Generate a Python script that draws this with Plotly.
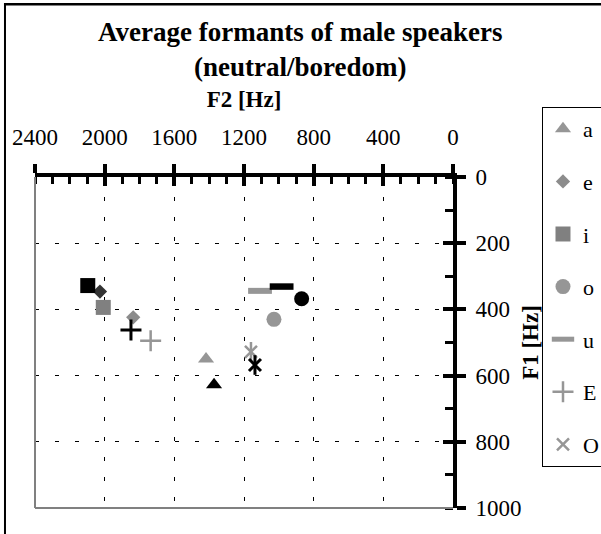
import plotly.graph_objects as go

# vowel formants (Hz)
vowels = ["a", "e", "i", "o", "u", "E", "O"]
f2_neutral = [1418, 1836, 2008, 1028, 1108, 1736, 1160]
f1_neutral = [550, 424, 394, 430, 344, 495, 528]
f2_boredom = [1372, 2027, 2097, 869, 984, 1849, 1137]
f1_boredom = [628, 346, 328, 368, 331, 462, 568]

# marker look per vowel: symbol, size, neutral colour, boredom colour
symbols = ["triangle-up", "diamond", "square", "circle", "line-ew", "cross-thin", "x-thin"]
sizes = [14, 11, 15, 15, 17, 15, 12]
grey_cols = ["#969696", "#8c8c8c", "#808080", "#969696", "#969696", "#969696", "#969696"]
dark_cols = ["black", "#333333", "black", "black", "black", "black", "black"]

fig = go.Figure()

for i, v in enumerate(vowels):
    sym = symbols[i]
    is_line = sym in ("line-ew", "cross-thin", "x-thin")
    lw = 6 if sym == "line-ew" else 2.5
    for f2, f1, col, show in [(f2_neutral, f1_neutral, grey_cols[i], True),
                              (f2_boredom, f1_boredom, dark_cols[i], False)]:
        marker = dict(symbol=sym, size=sizes[i], color=col)
        if is_line:
            marker["line"] = dict(color=col, width=lw if show else lw + 0.5)
        else:
            marker["line"] = dict(width=0)
        fig.add_trace(go.Scatter(
            x=[f2[i]], y=[f1[i]], mode="markers", name=v,
            legendgroup=v, showlegend=show, marker=marker
        ))
        # asterisk = x plus a vertical stroke
        if sym == "x-thin":
            fig.add_trace(go.Scatter(
                x=[f2[i]], y=[f1[i]], mode="markers", legendgroup=v, showlegend=False,
                marker=dict(symbol="line-ns", size=14, line=dict(color=col, width=lw if show else lw + 0.5))
            ))

# empty trace so the overlay axes (inner half of the crossing ticks) get drawn
fig.add_trace(go.Scatter(x=[], y=[], xaxis="x2", yaxis="y2", showlegend=False))

axis_common = dict(
    showline=True, linewidth=4, linecolor="black",
    ticks="outside", ticklen=9, tickwidth=3.5, tickcolor="black",
    showgrid=True, gridcolor="black", gridwidth=1, griddash="4px,16px",
    zeroline=False, tickfont=dict(size=23), automargin=False,
)

fig.update_layout(
    width=601, height=534,
    margin=dict(l=35, r=148, t=177, b=26, autoexpand=False),
    plot_bgcolor="white", paper_bgcolor="white",
    font=dict(family="Liberation Serif", size=23, color="black"),
    xaxis=dict(
        side="top", range=[2400, 0], tick0=0, dtick=400,
        minor=dict(dtick=100, ticks="inside", ticklen=7, tickwidth=3, tickcolor="black", showgrid=False),
        ticklabelstandoff=10,
        title=dict(text="<b>F2 [Hz]</b>", standoff=12, font=dict(size=23)),
        **axis_common
    ),
    yaxis=dict(
        side="right", range=[1000, 0], tick0=0, dtick=200,
        minor=dict(dtick=100, ticks="inside", ticklen=8, tickwidth=3, tickcolor="black", showgrid=False),
        ticklabelstandoff=5,
        title=dict(text="<b>F1 [Hz]</b>", standoff=2, font=dict(size=23)),
        **axis_common
    ),
    xaxis2=dict(overlaying="x", side="top", range=[2400, 0], tick0=0, dtick=400,
                ticks="inside", ticklen=9, tickwidth=3.5, tickcolor="black",
                showticklabels=False, showgrid=False, showline=False, zeroline=False),
    yaxis2=dict(overlaying="y", side="right", range=[1000, 0], tick0=0, dtick=200,
                ticks="inside", ticklen=10, tickwidth=3.5, tickcolor="black",
                showticklabels=False, showgrid=False, showline=False, zeroline=False),
    legend=dict(
        x=1.2129, y=1.2115, xanchor="left", yanchor="top",
        bordercolor="black", borderwidth=1, bgcolor="white",
        font=dict(size=22), tracegroupgap=21, maxheight=420,
    ),
    annotations=[
        dict(text="<b>Average formants of male speakers</b>", x=0.634, y=1.438,
             xref="paper", yref="paper", showarrow=False, font=dict(size=27),
             xanchor="center", yanchor="middle"),
        dict(text="<b>(neutral/boredom)</b>", x=0.634, y=1.332,
             xref="paper", yref="paper", showarrow=False, font=dict(size=27),
             xanchor="center", yanchor="middle"),
    ],
    shapes=[
        # grey plot-area border on the left and bottom
        dict(type="line", xref="paper", yref="paper", x0=0, x1=0, y0=0, y1=1,
             line=dict(color="#808080", width=2)),
        dict(type="line", xref="paper", yref="paper", x0=0, x1=1, y0=0, y1=0,
             line=dict(color="#808080", width=2)),
        # chart area frame as thin filled bars (left and top edges)
        dict(type="rect", xref="paper", yref="paper", x0=-0.0742, x1=-0.0694, y0=-0.3, y1=1.5257,
             fillcolor="black", line=dict(width=0)),
        dict(type="rect", xref="paper", yref="paper", x0=-0.0742, x1=1.6, y0=1.5181, y1=1.5257,
             fillcolor="black", line=dict(width=0)),
    ],
)

# drop the browser's default page margin so the figure starts at the corner
fig.write_html("out.html", config={"displayModeBar": False},
               post_script="document.body.style.margin='0px';")
